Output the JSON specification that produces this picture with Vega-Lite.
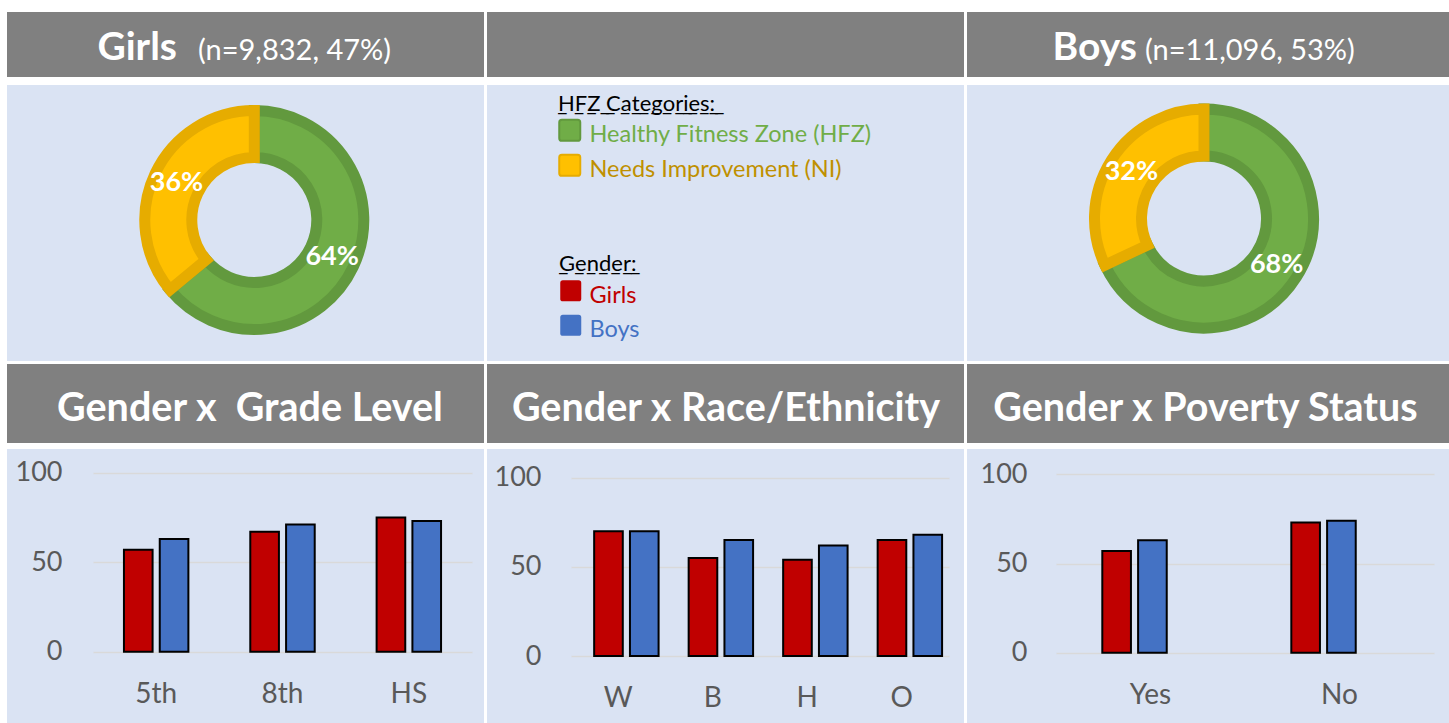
{
  "$schema": "https://vega.github.io/schema/vega-lite/v6.json",
  "background": "white",
  "padding": {"left": 7, "top": 12, "right": 0, "bottom": 0},
  "config": {"view": {"stroke": null}, "font": "Lato"},
  "datasets": {
    "grade": [
      {"cat": "5th", "gender": "Girls", "pct": 57}, {"cat": "5th", "gender": "Boys", "pct": 63},
      {"cat": "8th", "gender": "Girls", "pct": 67}, {"cat": "8th", "gender": "Boys", "pct": 71},
      {"cat": "HS", "gender": "Girls", "pct": 75}, {"cat": "HS", "gender": "Boys", "pct": 73}
    ],
    "race": [
      {"cat": "W", "gender": "Girls", "pct": 70}, {"cat": "W", "gender": "Boys", "pct": 70},
      {"cat": "B", "gender": "Girls", "pct": 55}, {"cat": "B", "gender": "Boys", "pct": 65},
      {"cat": "H", "gender": "Girls", "pct": 54}, {"cat": "H", "gender": "Boys", "pct": 62},
      {"cat": "O", "gender": "Girls", "pct": 65}, {"cat": "O", "gender": "Boys", "pct": 68}
    ],
    "poverty": [
      {"cat": "Yes", "gender": "Girls", "pct": 57}, {"cat": "Yes", "gender": "Boys", "pct": 63},
      {"cat": "No", "gender": "Girls", "pct": 73}, {"cat": "No", "gender": "Boys", "pct": 74}
    ],
    "girlsZone": [
      {"zone": "Healthy Fitness Zone (HFZ)", "share": 0.64},
      {"zone": "Needs Improvement (NI)", "share": 0.36}
    ],
    "boysZone": [
      {"zone": "Healthy Fitness Zone (HFZ)", "share": 0.68},
      {"zone": "Needs Improvement (NI)", "share": 0.32}
    ]
  },
  "spacing": 3,
  "vconcat": [
    {
      "spacing": 8,
      "vconcat": [
        {
          "bounds": "flush",
          "spacing": 3,
          "hconcat": [
            {
              "width": 477, "height": 65,
              "view": {"fill": "#808080", "stroke": null},
              "data": {"values": [{"name": "Girls", "n": "(n=9,832, 47%)"}]},
              "layer": [
                {"mark": {"type": "text", "align": "right", "baseline": "alphabetic", "dx": -68.5, "dy": 15.5, "font": "Lato", "fontSize": 39, "fontWeight": "bold", "fill": "white"},
                 "encoding": {"text": {"field": "name", "type": "nominal"}}},
                {"mark": {"type": "text", "align": "left", "baseline": "alphabetic", "dx": -47.5, "dy": 15.5, "font": "Lato", "fontSize": 29, "fill": "white"},
                 "encoding": {"text": {"field": "n", "type": "nominal"}}}
              ]
            },
            {
              "width": 477, "height": 65,
              "view": {"fill": "#808080", "stroke": null},
              "data": {"values": [{"name": ""}]},
              "mark": {"type": "text", "fill": "white"},
              "encoding": {"text": {"field": "name", "type": "nominal"}}
            },
            {
              "width": 482, "height": 65,
              "view": {"fill": "#808080", "stroke": null},
              "data": {"values": [{"name": "Boys", "n": "(n=11,096, 53%)"}]},
              "layer": [
                {"mark": {"type": "text", "align": "right", "baseline": "alphabetic", "dx": -71, "dy": 15.5, "font": "Lato", "fontSize": 39, "fontWeight": "bold", "fill": "white"},
                 "encoding": {"text": {"field": "name", "type": "nominal"}}},
                {"mark": {"type": "text", "align": "left", "baseline": "alphabetic", "dx": -63, "dy": 15.5, "font": "Lato", "fontSize": 29, "fill": "white"},
                 "encoding": {"text": {"field": "n", "type": "nominal"}}}
              ]
            }
          ]
        },
        {
          "bounds": "flush",
          "spacing": 3,
          "hconcat": [
            {
              "width": 477, "height": 276,
              "view": {"fill": "#dae3f3", "stroke": null},
              "data": {"name": "girlsZone"},
              "encoding": {
                "theta": {"field": "share", "type": "quantitative", "stack": true},
                "order": {"field": "zone", "type": "ordinal", "sort": "ascending"}
              },
              "layer": [
                {
                  "mark": {"type": "arc", "innerRadius": 62.5, "outerRadius": 109.5, "xOffset": 8.8, "yOffset": -3},
                  "encoding": {
                    "strokeWidth": {"value": 11},
                    "color": {"field": "zone", "type": "nominal",
                      "scale": {"domain": ["Healthy Fitness Zone (HFZ)", "Needs Improvement (NI)"], "range": ["#70ad47", "#ffc000"]},
                      "legend": {"title": " \u0332H\u0332F\u0332Z\u0332 \u0332C\u0332a\u0332t\u0332e\u0332g\u0332o\u0332r\u0332i\u0332e\u0332s\u0332:\u0332", "orient": "none", "legendX": 551, "legendY": 81.6, "direction": "vertical", "padding": 0, "titlePadding": 8, "rowPadding": 3, "labelOffset": 8,
                        "symbolType": "M-0.75,-1.48H0.75Q1,-1.48,1,-1.23V0.27Q1,0.52,0.75,0.52H-0.75Q-1,0.52,-1,0.27V-1.23Q-1,-1.48,-0.75,-1.48Z", "symbolSize": 441, "symbolStrokeWidth": 2,
                        "labelFont": "Lato", "labelFontSize": 23.5, "labelLimit": 500, "titleFont": "Lato", "titleFontSize": 22, "titleFontWeight": "normal", "titleColor": "black", "titleLimit": 500,
                        "labelColor": {"expr": "datum.value === 'Needs Improvement (NI)' ? '#bf9000' : '#70ad47'"}}},
                    "stroke": {"field": "zone", "type": "nominal",
                      "scale": {"domain": ["Healthy Fitness Zone (HFZ)", "Needs Improvement (NI)"], "range": ["#62993e", "#e6ac00"]},
                      "legend": {"title": " \u0332H\u0332F\u0332Z\u0332 \u0332C\u0332a\u0332t\u0332e\u0332g\u0332o\u0332r\u0332i\u0332e\u0332s\u0332:\u0332", "orient": "none", "legendX": 551, "legendY": 81.6, "direction": "vertical", "padding": 0, "titlePadding": 8, "rowPadding": 3, "labelOffset": 8,
                        "symbolType": "M-0.75,-1.48H0.75Q1,-1.48,1,-1.23V0.27Q1,0.52,0.75,0.52H-0.75Q-1,0.52,-1,0.27V-1.23Q-1,-1.48,-0.75,-1.48Z", "symbolSize": 441, "symbolStrokeWidth": 2,
                        "labelFont": "Lato", "labelFontSize": 23.5, "labelLimit": 500, "titleFont": "Lato", "titleFontSize": 22, "titleFontWeight": "normal", "titleColor": "black", "titleLimit": 500,
                        "labelColor": {"expr": "datum.value === 'Needs Improvement (NI)' ? '#bf9000' : '#70ad47'"}}}
                  }
                },
                {
                  "mark": {"type": "text", "radius": 86, "xOffset": 8.8, "yOffset": -3, "font": "Lato", "fontSize": 27, "fontWeight": "bold", "fill": "white"},
                  "encoding": {"text": {"field": "share", "type": "quantitative", "format": ".0%"}, "detail": {"field": "zone", "type": "nominal"}}
                }
              ]
            },
            {
              "width": 477, "height": 276,
              "view": {"fill": "#dae3f3", "stroke": null},
              "data": {"values": [{"name": ""}]},
              "mark": {"type": "text"},
              "encoding": {"text": {"field": "name", "type": "nominal"}}
            },
            {
              "width": 482, "height": 276,
              "view": {"fill": "#dae3f3", "stroke": null},
              "data": {"name": "boysZone"},
              "encoding": {
                "theta": {"field": "share", "type": "quantitative", "stack": true},
                "order": {"field": "zone", "type": "ordinal", "sort": "ascending"}
              },
              "layer": [
                {
                  "mark": {"type": "arc", "innerRadius": 62.5, "outerRadius": 109.5, "xOffset": -4, "yOffset": -4.5},
                  "encoding": {
                    "strokeWidth": {"value": 11},
                    "color": {"field": "zone", "type": "nominal",
                      "scale": {"domain": ["Healthy Fitness Zone (HFZ)", "Needs Improvement (NI)"], "range": ["#70ad47", "#ffc000"]},
                      "legend": {"title": " \u0332H\u0332F\u0332Z\u0332 \u0332C\u0332a\u0332t\u0332e\u0332g\u0332o\u0332r\u0332i\u0332e\u0332s\u0332:\u0332", "orient": "none", "legendX": 551, "legendY": 81.6, "direction": "vertical", "padding": 0, "titlePadding": 8, "rowPadding": 3, "labelOffset": 8,
                        "symbolType": "M-0.75,-1.48H0.75Q1,-1.48,1,-1.23V0.27Q1,0.52,0.75,0.52H-0.75Q-1,0.52,-1,0.27V-1.23Q-1,-1.48,-0.75,-1.48Z", "symbolSize": 441, "symbolStrokeWidth": 2,
                        "labelFont": "Lato", "labelFontSize": 23.5, "labelLimit": 500, "titleFont": "Lato", "titleFontSize": 22, "titleFontWeight": "normal", "titleColor": "black", "titleLimit": 500,
                        "labelColor": {"expr": "datum.value === 'Needs Improvement (NI)' ? '#bf9000' : '#70ad47'"}}},
                    "stroke": {"field": "zone", "type": "nominal",
                      "scale": {"domain": ["Healthy Fitness Zone (HFZ)", "Needs Improvement (NI)"], "range": ["#62993e", "#e6ac00"]},
                      "legend": {"title": " \u0332H\u0332F\u0332Z\u0332 \u0332C\u0332a\u0332t\u0332e\u0332g\u0332o\u0332r\u0332i\u0332e\u0332s\u0332:\u0332", "orient": "none", "legendX": 551, "legendY": 81.6, "direction": "vertical", "padding": 0, "titlePadding": 8, "rowPadding": 3, "labelOffset": 8,
                        "symbolType": "M-0.75,-1.48H0.75Q1,-1.48,1,-1.23V0.27Q1,0.52,0.75,0.52H-0.75Q-1,0.52,-1,0.27V-1.23Q-1,-1.48,-0.75,-1.48Z", "symbolSize": 441, "symbolStrokeWidth": 2,
                        "labelFont": "Lato", "labelFontSize": 23.5, "labelLimit": 500, "titleFont": "Lato", "titleFontSize": 22, "titleFontWeight": "normal", "titleColor": "black", "titleLimit": 500,
                        "labelColor": {"expr": "datum.value === 'Needs Improvement (NI)' ? '#bf9000' : '#70ad47'"}}}
                  }
                },
                {
                  "mark": {"type": "text", "radius": 86, "xOffset": -4, "yOffset": -4.5, "font": "Lato", "fontSize": 27, "fontWeight": "bold", "fill": "white"},
                  "encoding": {"text": {"field": "share", "type": "quantitative", "format": ".0%"}, "detail": {"field": "zone", "type": "nominal"}}
                }
              ]
            }
          ]
        }
      ]
    },
    {
      "spacing": 6,
      "vconcat": [
        {
          "bounds": "flush",
          "spacing": 3,
          "hconcat": [
            {
              "width": 477, "height": 79,
              "view": {"fill": "#808080", "stroke": null},
              "data": {"values": [{"name": "Gender x\u00a0 Grade Level"}]},
              "mark": {"type": "text", "baseline": "alphabetic", "dx": 4.5, "dy": 17.5, "font": "Lato", "fontSize": 39.5, "fontWeight": "bold", "fill": "white"},
              "encoding": {"text": {"field": "name", "type": "nominal"}}
            },
            {
              "width": 477, "height": 79,
              "view": {"fill": "#808080", "stroke": null},
              "data": {"values": [{"name": "Gender x Race/Ethnicity"}]},
              "mark": {"type": "text", "baseline": "alphabetic", "dx": 0.5, "dy": 17.5, "font": "Lato", "fontSize": 39.5, "fontWeight": "bold", "fill": "white"},
              "encoding": {"text": {"field": "name", "type": "nominal"}}
            },
            {
              "width": 482, "height": 79,
              "view": {"fill": "#808080", "stroke": null},
              "data": {"values": [{"name": "Gender x Poverty Status"}]},
              "mark": {"type": "text", "baseline": "alphabetic", "dx": -2.5, "dy": 17.5, "font": "Lato", "fontSize": 39.5, "fontWeight": "bold", "fill": "white"},
              "encoding": {"text": {"field": "name", "type": "nominal"}}
            }
          ]
        },
        {
          "bounds": "flush",
          "spacing": 3,
          "hconcat": [
            {
              "width": 477, "height": 274,
              "view": {"fill": "#dae3f3", "stroke": null},
              "data": {"name": "grade"},
              "mark": {"type": "bar", "stroke": "black", "strokeWidth": 2},
              "encoding": {
                "x": {"field": "cat", "type": "nominal", "sort": null,
                  "scale": {"range": [86, 465], "paddingInner": 0.49, "paddingOuter": 0.245},
                  "axis": {"title": null, "domain": false, "ticks": false, "grid": false, "labelPadding": 0, "offset": -29, "labelBaseline": "middle", "labelAngle": 0, "labelFont": "Lato", "labelFontSize": 28, "labelColor": "#595959"}},
                "xOffset": {"field": "gender", "type": "nominal", "sort": ["Girls", "Boys"], "scale": {"paddingInner": 0.2}},
                "y": {"field": "pct", "type": "quantitative",
                  "scale": {"domain": [0, 100], "range": [202.7, 23.7], "nice": false},
                  "axis": {"title": null, "values": [0, 50, 100], "domain": false, "ticks": false, "labelPadding": 0, "offset": -55, "labelFont": "Lato", "labelFontSize": 27, "labelColor": "#595959", "grid": true, "gridColor": "#d9d9d9", "gridWidth": 1.5}},
                "fill": {"field": "gender", "type": "nominal",
                  "scale": {"domain": ["Girls", "Boys"], "range": ["#c00000", "#4472c4"]},
                  "legend": {"title": " \u0332G\u0332e\u0332n\u0332d\u0332e\u0332r\u0332:", "orient": "none", "legendX": 552, "legendY": 241.6, "direction": "vertical", "padding": 0, "titlePadding": 8.5, "rowPadding": 6.5, "labelOffset": 7,
                    "symbolType": "M-0.75,-1.48H0.75Q1,-1.48,1,-1.23V0.27Q1,0.52,0.75,0.52H-0.75Q-1,0.52,-1,0.27V-1.23Q-1,-1.48,-0.75,-1.48Z", "symbolSize": 441, "symbolStrokeWidth": 0,
                    "labelFont": "Lato", "labelFontSize": 23.5, "labelLimit": 500, "titleFont": "Lato", "titleFontSize": 22, "titleFontWeight": "normal", "titleColor": "black", "titleLimit": 500,
                    "labelColor": {"expr": "datum.value === 'Girls' ? '#c00000' : '#4472c4'"}}}
              }
            },
            {
              "width": 477, "height": 274,
              "view": {"fill": "#dae3f3", "stroke": null},
              "data": {"name": "race"},
              "mark": {"type": "bar", "stroke": "black", "strokeWidth": 2},
              "encoding": {
                "x": {"field": "cat", "type": "nominal", "sort": null,
                  "scale": {"range": [84, 462], "paddingInner": 0.49, "paddingOuter": 0.245},
                  "axis": {"title": null, "domain": false, "ticks": false, "grid": false, "labelPadding": 0, "offset": -24.5, "labelBaseline": "middle", "labelAngle": 0, "labelFont": "Lato", "labelFontSize": 28, "labelColor": "#595959"}},
                "xOffset": {"field": "gender", "type": "nominal", "sort": ["Girls", "Boys"], "scale": {"paddingInner": 0.2}},
                "y": {"field": "pct", "type": "quantitative",
                  "scale": {"domain": [0, 100], "range": [207, 28.7], "nice": false},
                  "axis": {"title": null, "values": [0, 50, 100], "domain": false, "ticks": false, "labelPadding": 0, "offset": -54, "labelFont": "Lato", "labelFontSize": 27, "labelColor": "#595959", "grid": true, "gridColor": "#d9d9d9", "gridWidth": 1.5}},
                "fill": {"field": "gender", "type": "nominal",
                  "scale": {"domain": ["Girls", "Boys"], "range": ["#c00000", "#4472c4"]},
                  "legend": {"title": " \u0332G\u0332e\u0332n\u0332d\u0332e\u0332r\u0332:", "orient": "none", "legendX": 552, "legendY": 241.6, "direction": "vertical", "padding": 0, "titlePadding": 8.5, "rowPadding": 6.5, "labelOffset": 7,
                    "symbolType": "M-0.75,-1.48H0.75Q1,-1.48,1,-1.23V0.27Q1,0.52,0.75,0.52H-0.75Q-1,0.52,-1,0.27V-1.23Q-1,-1.48,-0.75,-1.48Z", "symbolSize": 441, "symbolStrokeWidth": 0,
                    "labelFont": "Lato", "labelFontSize": 23.5, "labelLimit": 500, "titleFont": "Lato", "titleFontSize": 22, "titleFontWeight": "normal", "titleColor": "black", "titleLimit": 500,
                    "labelColor": {"expr": "datum.value === 'Girls' ? '#c00000' : '#4472c4'"}}}
              }
            },
            {
              "width": 482, "height": 274,
              "view": {"fill": "#dae3f3", "stroke": null},
              "data": {"name": "poverty"},
              "mark": {"type": "bar", "stroke": "black", "strokeWidth": 2},
              "encoding": {
                "x": {"field": "cat", "type": "nominal", "sort": null,
                  "scale": {"range": [89, 467], "paddingInner": 0.49, "paddingOuter": 0.245},
                  "axis": {"title": null, "domain": false, "ticks": false, "grid": false, "labelPadding": 0, "offset": -28, "labelBaseline": "middle", "labelAngle": 0, "labelFont": "Lato", "labelFontSize": 28, "labelColor": "#595959"}},
                "xOffset": {"field": "gender", "type": "nominal", "sort": ["Girls", "Boys"], "scale": {"paddingInner": 0.2}},
                "y": {"field": "pct", "type": "quantitative",
                  "scale": {"domain": [0, 100], "range": [203.7, 25.3], "nice": false},
                  "axis": {"title": null, "values": [0, 50, 100], "domain": false, "ticks": false, "labelPadding": 0, "offset": -60, "labelFont": "Lato", "labelFontSize": 27, "labelColor": "#595959", "grid": true, "gridColor": "#d9d9d9", "gridWidth": 1.5}},
                "fill": {"field": "gender", "type": "nominal",
                  "scale": {"domain": ["Girls", "Boys"], "range": ["#c00000", "#4472c4"]},
                  "legend": {"title": " \u0332G\u0332e\u0332n\u0332d\u0332e\u0332r\u0332:", "orient": "none", "legendX": 552, "legendY": 241.6, "direction": "vertical", "padding": 0, "titlePadding": 8.5, "rowPadding": 6.5, "labelOffset": 7,
                    "symbolType": "M-0.75,-1.48H0.75Q1,-1.48,1,-1.23V0.27Q1,0.52,0.75,0.52H-0.75Q-1,0.52,-1,0.27V-1.23Q-1,-1.48,-0.75,-1.48Z", "symbolSize": 441, "symbolStrokeWidth": 0,
                    "labelFont": "Lato", "labelFontSize": 23.5, "labelLimit": 500, "titleFont": "Lato", "titleFontSize": 22, "titleFontWeight": "normal", "titleColor": "black", "titleLimit": 500,
                    "labelColor": {"expr": "datum.value === 'Girls' ? '#c00000' : '#4472c4'"}}}
              }
            }
          ]
        }
      ]
    }
  ]
}
